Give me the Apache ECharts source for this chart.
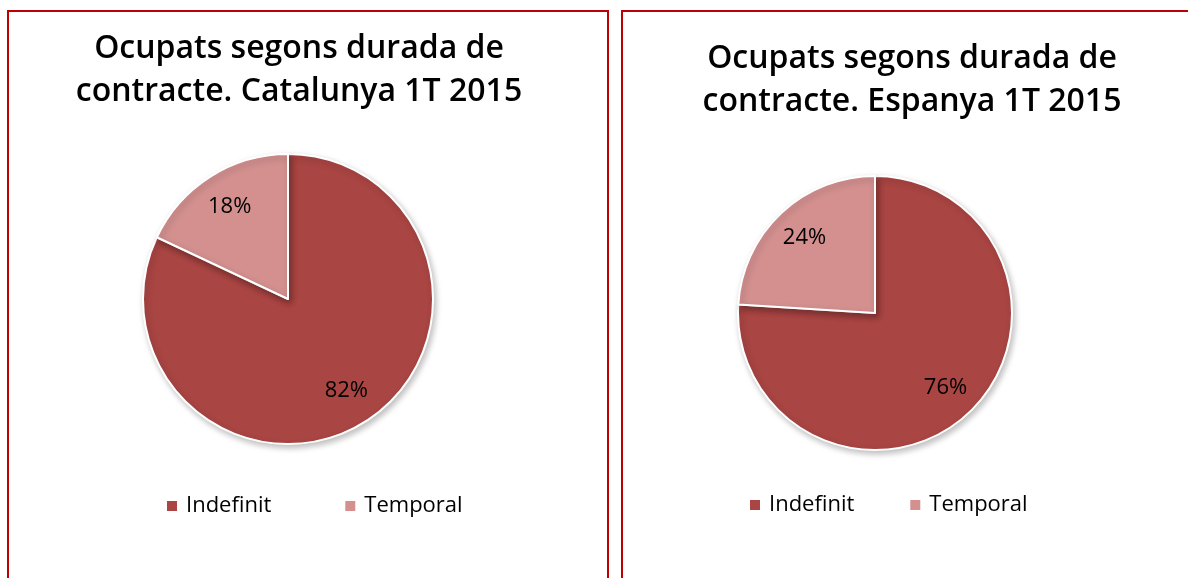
<!DOCTYPE html>
<html>
<head>
<meta charset="utf-8">
<script src="https://cdn.jsdelivr.net/npm/echarts@6/dist/echarts.min.js"></script>
<style>
  html, body { margin: 0; padding: 0; background: #fff; overflow: hidden; }
  .panel { position: absolute; border: 2px solid #c00000; box-sizing: border-box; }
  .chart { position: absolute; top: 0; height: 578px; }
</style>
</head>
<body>
<div class="panel" style="left:7px; top:10px; width:602px; height:700px;"></div>
<div class="panel" style="left:621px; top:10px; width:700px; height:700px;"></div>
<div id="chartCat" class="chart" style="left:0; width:615px;"></div>
<div id="chartEsp" class="chart" style="left:615px; width:573px;"></div>

<script>
// dades
var categories = ['Indefinit', 'Temporal'];
var valuesCat = [82, 18];
var valuesEsp = [76, 24];
var titleCat = 'Ocupats segons durada de\ncontracte. Catalunya 1T 2015';
var titleEsp = 'Ocupats segons durada de\ncontracte. Espanya 1T 2015';
var colors = ['#a94543', '#d3908f'];

var fontFam = '"Open Sans", "Noto Sans", sans-serif';

function makeData(values) {
  return categories.map(function (c, i) { return { name: c, value: values[i] }; });
}

function drawPie(id, title, values, opts) {
  var chart = echarts.init(document.getElementById(id));
  chart.setOption({
    animation: false,
    color: colors,
    title: {
      text: title,
      left: opts.titleX,
      top: opts.titleY,
      textAlign: 'center',
      textStyle: {
        fontFamily: fontFam,
        fontSize: 32,
        fontWeight: 600,
        color: '#000',
        lineHeight: 43
      }
    },
    legend: {
      data: categories,
      left: opts.legendX,
      top: opts.legendY,
      itemWidth: 12,
      itemHeight: 12,
      itemGap: opts.legendGap,
      icon: 'rect',
      textStyle: {
        fontFamily: fontFam,
        fontSize: 22,
        color: '#000',
        padding: [0, 0, 0, 3]
      }
    },
    series: [
      {
        type: 'pie',
        center: opts.center,
        radius: [0, opts.radius],
        startAngle: 90,
        clockwise: true,
        silent: true,
        label: { show: false },
        labelLine: { show: false },
        itemStyle: {
          borderColor: '#fff',
          borderWidth: 2,
          shadowBlur: 6,
          shadowOffsetX: 2,
          shadowOffsetY: 3,
          shadowColor: 'rgba(0,0,0,0.25)'
        },
        data: makeData(values)
      },
      {
        // anell transparent per situar les etiquetes
        type: 'pie',
        center: opts.center,
        radius: [opts.radius * 0.46, opts.radius],
        startAngle: 90,
        clockwise: true,
        silent: true,
        legendHoverLink: false,
        itemStyle: { color: 'rgba(0,0,0,0)' },
        label: {
          show: true,
          position: 'inside',
          formatter: '{c}%',
          fontFamily: fontFam,
          fontSize: 22,
          color: '#000'
        },
        labelLine: { show: false },
        data: makeData(values)
      }
    ]
  });
  return chart;
}

drawPie('chartCat', titleCat, valuesCat, {
  titleX: 294, titleY: 22,
  legendX: 160, legendY: 490, legendGap: 72,
  center: [288, 299], radius: 145
});
drawPie('chartEsp', titleEsp, valuesEsp, {
  titleX: 292, titleY: 32,
  legendX: 128, legendY: 489, legendGap: 54,
  center: [260, 313], radius: 137
});
</script>
</body>
</html>
